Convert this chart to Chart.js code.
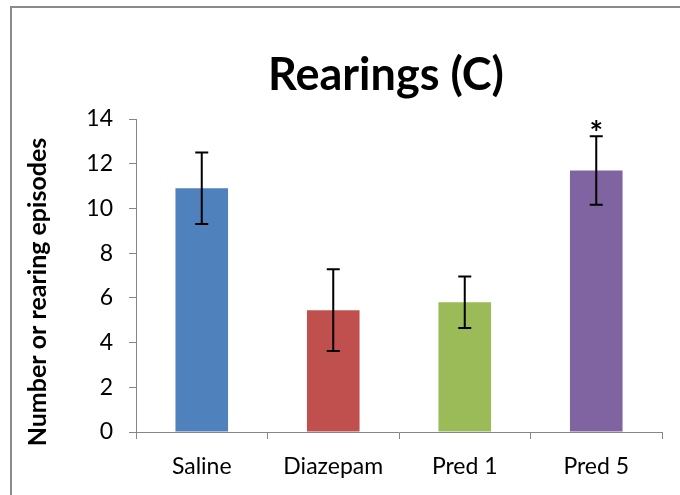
<!DOCTYPE html>
<html>
<head>
<meta charset="utf-8">
<script src="https://cdn.jsdelivr.net/npm/chart.js@4"></script>
<style>
  html, body { margin: 0; padding: 0; background: #fff; }
  #wrap { width: 680px; height: 495px; position: relative; }
</style>
</head>
<body>
<div id="wrap"><canvas id="chart"></canvas></div>
<script>
// ── Data ──
const categories = ['Saline', 'Diazepam', 'Pred 1', 'Pred 5'];
const means      = [10.9, 5.45, 5.8, 11.7];
const errors     = [1.6, 1.83, 1.15, 1.53];
const marks      = ['', '', '', '*'];
const barColors  = ['#4F81BD', '#C0504D', '#9BBB59', '#8064A2'];
const yTicks     = [0, 2, 4, 6, 8, 10, 12, 14];

const chartTitle = 'Rearings (C)';
const yTitle     = 'Number or rearing episodes';

const AXIS_GREY = '#868686';
const FONT = "Lato, 'Open Sans', sans-serif";

// ── Outer frame + titles ──
const framePlugin = {
    id: 'frame',
    beforeDraw(chart) {
        const ctx = chart.ctx;
        ctx.save();
        ctx.fillStyle = '#fff';
        ctx.fillRect(0, 0, chart.width, chart.height);
        ctx.strokeStyle = '#8a8a8a';
        ctx.lineWidth = 2;
        ctx.beginPath();
        ctx.moveTo(11, chart.height);
        ctx.lineTo(11, 7);
        ctx.lineTo(chart.width, 7);
        ctx.stroke();
        ctx.restore();
    },
    afterDraw(chart) {
        const ctx = chart.ctx;
        ctx.save();
        ctx.fillStyle = '#000';
        ctx.textAlign = 'center';
        ctx.textBaseline = 'alphabetic';
        ctx.font = 'bold 45px ' + FONT;
        ctx.fillText(chartTitle, 386, 90);

        // rotated y-axis title, a bit below the plot centre like the original
        ctx.translate(38, 292);
        ctx.rotate(-Math.PI / 2);
        ctx.textBaseline = 'middle';
        ctx.font = 'bold 25px ' + FONT;
        ctx.fillText(yTitle, 0, 0);
        ctx.restore();
    }
};

// ── Error bars + significance marks ──
const errorBarPlugin = {
    id: 'errorBars',
    afterDatasetsDraw(chart) {
        const ctx = chart.ctx;
        const y = chart.scales.y;
        const bars = chart.getDatasetMeta(0).data;
        ctx.save();
        ctx.strokeStyle = '#000';
        ctx.lineWidth = 2;
        bars.forEach((bar, i) => {
            const top = y.getPixelForValue(means[i] + errors[i]);
            const bot = y.getPixelForValue(means[i] - errors[i]);
            const cap = 6.5;
            ctx.beginPath();
            ctx.moveTo(bar.x, top);
            ctx.lineTo(bar.x, bot);
            ctx.moveTo(bar.x - cap, top);
            ctx.lineTo(bar.x + cap, top);
            ctx.moveTo(bar.x - cap, bot);
            ctx.lineTo(bar.x + cap, bot);
            ctx.stroke();
            if (marks[i]) {
                ctx.fillStyle = '#000';
                ctx.font = 'bold 32px ' + FONT;
                ctx.textAlign = 'center';
                ctx.textBaseline = 'alphabetic';
                // asterisk sits just above the upper cap
                ctx.fillText(marks[i], bar.x, top + 9);
            }
        });
        ctx.restore();
    }
};

new Chart(document.getElementById('chart'), {
    type: 'bar',
    data: {
        labels: categories,
        datasets: [{
            data: means,
            backgroundColor: barColors,
            borderWidth: 0,
            barPercentage: 0.4,
            categoryPercentage: 1
        }]
    },
    options: {
        responsive: true,
        maintainAspectRatio: false,
        animation: false,
        layout: { padding: { left: 0, right: 18, top: 119, bottom: 0 } },
        plugins: {
            legend: { display: false },
            tooltip: { enabled: false },
            title: { display: false }
        },
        scales: {
            x: {
                afterFit: (s) => { s.height = 63; },
                border: { color: AXIS_GREY, width: 1 },
                grid: { display: true, drawOnChartArea: false, offset: true, tickLength: 7, color: AXIS_GREY },
                ticks: { color: '#000', padding: 14, font: { family: FONT, size: 23 } }
            },
            y: {
                min: 0,
                max: 14,
                afterFit: (s) => { s.width = 136; },
                afterBuildTicks: (s) => { s.ticks = yTicks.map(v => ({ value: v })); },
                border: { color: AXIS_GREY, width: 1 },
                grid: { display: true, drawOnChartArea: false, tickLength: 7, color: AXIS_GREY },
                ticks: { color: '#000', padding: 16, font: { family: FONT, size: 23 } }
            }
        }
    },
    plugins: [framePlugin, errorBarPlugin]
});
</script>
</body>
</html>
